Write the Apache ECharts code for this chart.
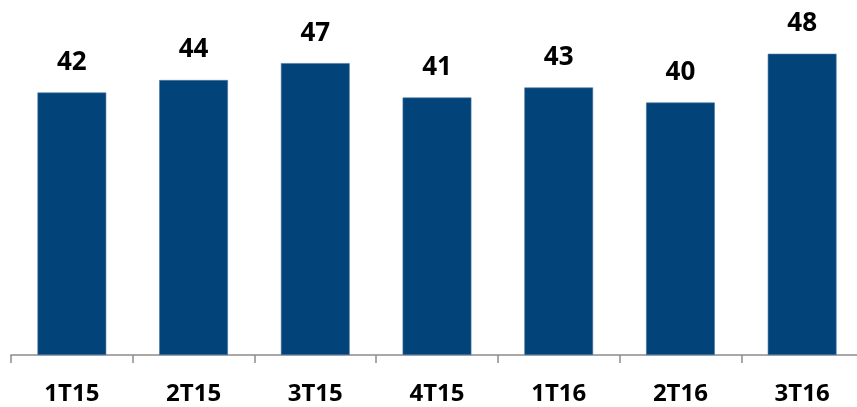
<!DOCTYPE html>
<html><head><meta charset="utf-8">
<script src="https://cdn.jsdelivr.net/npm/echarts@6/dist/echarts.min.js"></script>
<style>html,body{margin:0;padding:0;background:#fff;overflow:hidden;width:857px;height:407px}#c{width:870px;height:407px}</style>
</head><body><div id="c"></div>
<script>
const categories = ['1T15','2T15','3T15','4T15','1T16','2T16','3T16'];
const values = [42.0, 44.0, 46.7, 41.2, 42.8, 40.4, 48.2];
const chart = echarts.init(document.getElementById('c'), null, {renderer:'canvas'});
chart.setOption({
  animation:false,
  grid:{left:11, top:42.5, width:852, bottom:52, containLabel:false},
  xAxis:{type:'category', data:categories, boundaryGap:true,
    axisLine:{lineStyle:{color:'#8c8c8c', width:1.5}},
    axisTick:{show:true, length:8, lineStyle:{color:'#8c8c8c', width:1.5}},
    axisLabel:{margin:27, color:'#000', fontFamily:'Open Sans', fontWeight:'bold', fontSize:24}},
  yAxis:{type:'value', min:0, max:50, show:false, splitLine:{show:false}},
  series:[{type:'bar', data:values, barWidth:'56.5%',
    itemStyle:{color:'#02437a', borderColor:'#4a78a6', borderWidth:0.6},
    label:{show:true, position:'top', distance:17, color:'#000', fontFamily:'Open Sans', fontWeight:'bold', fontSize:26,
      formatter:p=>Math.round(p.value)}}]
});
</script></body></html>
